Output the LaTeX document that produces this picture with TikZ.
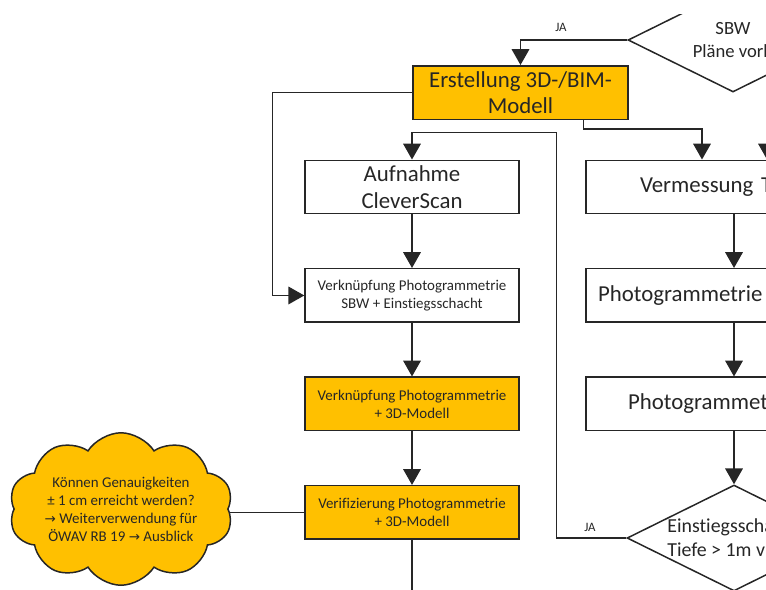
\documentclass[tikz,border=0pt]{standalone}
\usepackage{fontspec}
\setmainfont{Carlito}[Ligatures=NoCommon]
\newfontfamily\symfont{DejaVu Sans}[Scale=0.9]
\usetikzlibrary{calc,arrows.meta,positioning,shapes.geometric,shapes.symbols}

\definecolor{boxorange}{HTML}{FFC000}
\definecolor{linegray}{HTML}{262626}
\newcommand\toarrow{{\symfont →}}

\tikzset{
    box/.style={draw=linegray, line width=0.85pt, minimum width=4.28cm,
        minimum height=1.07cm, inner sep=1pt, align=center},
    orangebox/.style={box, fill=boxorange},
    widebox/.style={box, minimum width=5.92cm, align=left},
    decision/.style={diamond, draw=linegray, line width=0.85pt, inner sep=0pt},
    flow/.style={draw=linegray, line width=0.85pt, -{Triangle[length=9pt,width=10pt]}},
    link/.style={draw=linegray, line width=0.85pt},
    bigtext/.style={font=\fontsize{13pt}{15pt}\selectfont},
    midtext/.style={font=\fontsize{11.3pt}{13.6pt}\selectfont},
    smalltext/.style={font=\fontsize{8.5pt}{10.2pt}\selectfont},
    tinytext/.style={font=\fontsize{7.3pt}{9pt}\selectfont},
}

\begin{document}
\begin{tikzpicture}[x=0.02cm, y=-0.02cm
    , every node/.style={text=linegray}
    , node distance=1.07cm
]
    \useasboundingbox (0,0) rectangle (766,589);
    \clip (0,14) rectangle (766,589);

    % Left column
    \node[orangebox, bigtext, minimum width=4.3cm] (erstellung) at (520.5,92.5)
        {Erstellung 3D-/BIM-\\Modell};
    \node[box, bigtext] (aufnahme) at (412,187) {Aufnahme\\CleverScan};
    \node[box, smalltext, below=of aufnahme] (verknsbw)
        {Verknüpfung Photogrammetrie\\SBW + Einstiegsschacht};
    \node[orangebox, smalltext, below=of verknsbw] (verknmodell)
        {Verknüpfung Photogrammetrie\\+ 3D-Modell};
    \node[orangebox, smalltext, below=of verknmodell] (verif)
        {Verifizierung Photogrammetrie\\+ 3D-Modell};

    % Cloud
    \node[cloud, cloud puffs=10, cloud puff arc=115, draw=linegray, line width=0.85pt,
        fill=boxorange, inner sep=0pt,
        minimum width=4.48cm, minimum height=3.05cm] (genauigkeit) at (121,509) {};
    \node[smalltext, align=center, inner sep=0pt] (genauigkeittext) at (121,509)
        {Können Genauigkeiten\\± 1 cm erreicht werden?\\\toarrow\ Weiterverwendung für\\ÖWAV RB 19 \toarrow\ Ausblick};

    % Right column
    \node[widebox, bigtext, text width=3.76cm] (vermessung) at (734,187) {Vermessung T};
    \node[widebox, bigtext, text width=5.44cm, below=of vermessung] (photoa) {Photogrammetrie};
    \node[widebox, bigtext, text width=4.24cm, below=of photoa] (photob) {Photogrammet};

    % Decisions
    \node[decision, minimum width=4.2cm, minimum height=2.08cm] (sbw) at (733,40) {};
    \node[midtext, font=\fontsize{10.6pt}{13.6pt}\selectfont, align=center, inner sep=0pt]
        (sbwtext) at (733,40) {SBW\\Pläne vorh};

    \node[decision, minimum width=4.28cm, minimum height=2.12cm] (einstieg) at (734,538) {};
    \node[midtext, align=left, anchor=west, inner sep=0pt] (einstiegtext) at (667,538)
        {Einstiegsschä\\Tiefe > 1m v};

    % Connectors
    \draw[flow] (sbw.west) -| (erstellung.north);
    \node[tinytext] (jaoben) at (561,27) {JA};

    \draw[flow] (erstellung.west) -- ++(-140,0) |- (verknsbw.west);
    \draw[flow] ($(erstellung.south east)+(-45,0)$) -- ++(0,9) -| ($(vermessung.north)+(-32,0)$);

    \coordinate (neinsbw) at (767,110);
    \draw[flow] (neinsbw) -- ($(vermessung.north)+(33,0)$);

    \draw[flow] (aufnahme) -- (verknsbw);
    \draw[flow] (verknsbw) -- (verknmodell);
    \draw[flow] (verknmodell) -- (verif);
    \coordinate (weiter) at (412,600);
    \draw[link] (verif) -- (weiter);
    \draw[link] (verif.west) -- (verif.west -| genauigkeit.east);

    \draw[flow] (vermessung) -- (photoa);
    \draw[flow] (photoa) -- (photob);
    \draw[flow] (photob) -- (einstieg);

    \draw[flow] (einstieg.west) -- ++(-70,0) |- ($(aufnahme.north)+(0,-27)$) -- (aufnahme.north);
    \node[tinytext] (jaunten) at (590,527) {JA};

\end{tikzpicture}
\end{document}
